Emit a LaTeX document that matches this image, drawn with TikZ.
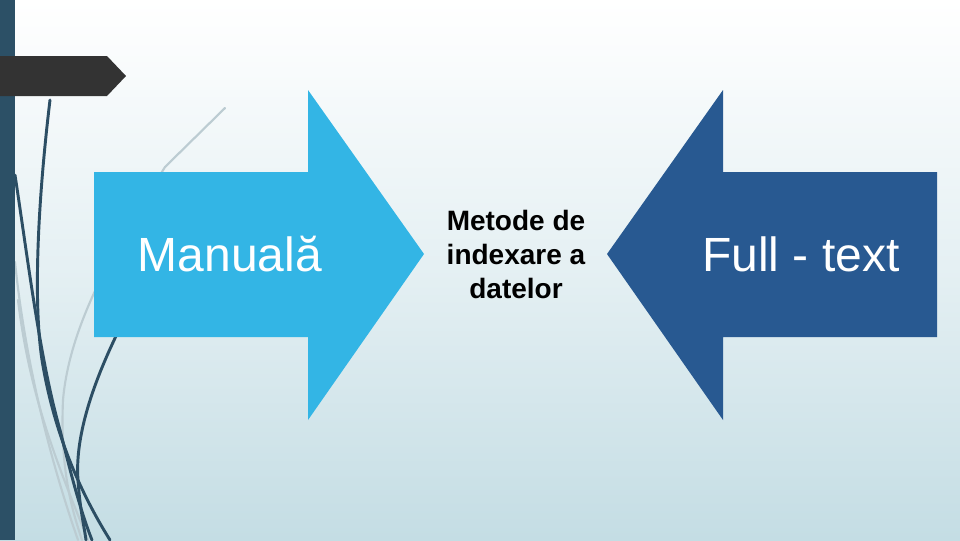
\documentclass[tikz,border=0pt]{standalone}
\usepackage{fontspec}
\setmainfont{Liberation Sans}
\definecolor{bgbot}{RGB}{196,221,228}
\definecolor{barcol}{RGB}{44,80,102}
\definecolor{tabcol}{RGB}{51,51,51}
\definecolor{lightarrow}{RGB}{51,181,229}
\definecolor{darkarrow}{RGB}{40,89,145}
\definecolor{curvedark}{RGB}{44,78,100}
\definecolor{curvegrey}{RGB}{188,204,210}
\tikzset{
  darkcurve/.style={draw=curvedark,line width=2.2pt,line cap=round},
  greycurve/.style={draw=curvegrey,line width=1.6pt,line cap=round},
  bigtext/.style={text=white,font=\fontsize{36}{43}\selectfont,inner sep=0pt},
  midtext/.style={text=black,align=center,font=\bfseries\fontsize{21}{25.5}\selectfont,inner sep=0pt}
}
\begin{document}
\begin{tikzpicture}[x=0.75pt,y=-0.75pt]
\useasboundingbox (0,0) rectangle (960,540);
% background
\shade[top color=white,bottom color=bgbot,middle color={white!55!bgbot}] (0,0) rectangle (960,540);
% grey curves
\draw[greycurve] (225,108) -- (165,167) .. controls (120,240) and (70,320) .. (63,400) .. controls (60,470) and (72,510) .. (82,540);
\draw[greycurve] (15,262) .. controls (25,360) and (50,460) .. (78,540);
\draw[greycurve] (18,300) .. controls (30,400) and (60,470) .. (88,540);
% dark curves
\draw[darkcurve] (50,100) .. controls (38,200) and (33,300) .. (42,360) .. controls (55,440) and (85,500) .. (110,540);
\draw[darkcurve] (15,175) .. controls (28,260) and (40,360) .. (60,430) .. controls (70,470) and (80,510) .. (92,540);
\draw[darkcurve] (117,334) .. controls (90,390) and (75,440) .. (78,480) .. controls (80,510) and (84,525) .. (86,540);
% left bar
\fill[barcol] (0,0) rectangle (15,540);
% dark tab
\fill[tabcol] (0,56) -- (107,56) -- (126,76) -- (107,96) -- (0,96) -- cycle;
% right-pointing arrow
\fill[lightarrow] (94,172) -- (308,172) -- (308,90) -- (424,254) -- (308,420) -- (308,337) -- (94,337) -- cycle;
% left-pointing arrow
\fill[darkarrow] (937,172) -- (723,172) -- (723,90) -- (607,254) -- (723,420) -- (723,337) -- (937,337) -- cycle;
% texts
\node[bigtext] (manual) at (230,254) {Manuală};
\node[bigtext] (full) at (801,254) {Full - text};
\node[midtext] (mid) at (516,254) {Metode de\\indexare a\\datelor};
\end{tikzpicture}
\end{document}
